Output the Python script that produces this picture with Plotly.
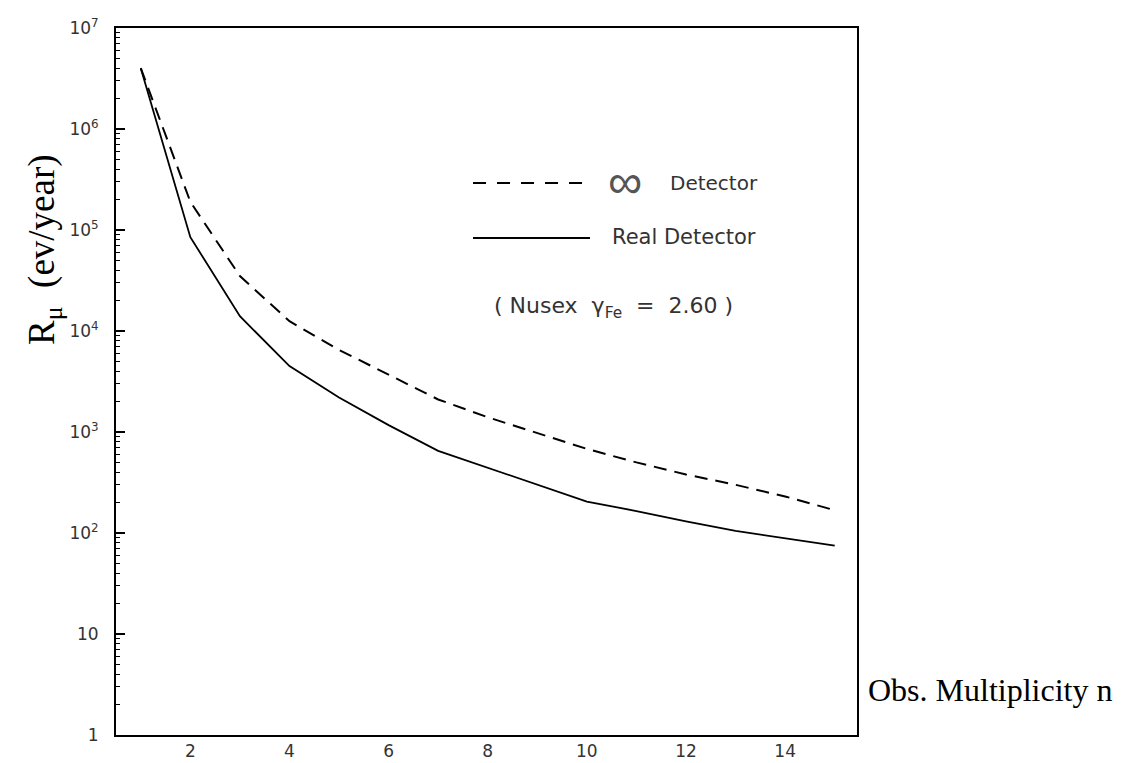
import plotly.graph_objects as go

# ---- data ----
multiplicity = [1, 2, 3, 4, 5, 6, 7, 8, 9, 10, 11, 12, 13, 14, 15]
rate_infinite = [4.0e6, 1.9e5, 3.5e4, 1.25e4, 6.5e3, 3.7e3, 2.1e3, 1.4e3,
                 980, 680, 500, 380, 300, 230, 168]
rate_real = [4.0e6, 8.5e4, 1.4e4, 4.5e3, 2.2e3, 1.17e3, 650, 440,
             300, 205, 165, 130, 105, 88, 75]

x_tick_vals = [2, 4, 6, 8, 10, 12, 14]
y_tick_vals = [1, 10, 1e2, 1e3, 1e4, 1e5, 1e6, 1e7]
y_tick_text = ["1", "10", "10<sup>2</sup>", "10<sup>3</sup>", "10<sup>4</sup>",
               "10<sup>5</sup>", "10<sup>6</sup>", "10<sup>7</sup>"]
minor_vals = [m * 10 ** k for k in range(0, 7) for m in range(2, 10)]

W, H = 1143, 763
L, R, T, B = 116, 857, 28, 735

fig = go.Figure()
fig.add_trace(go.Scatter(x=multiplicity, y=rate_infinite, mode="lines",
                         line=dict(color="black", width=2, dash="13px,8px"),
                         name="∞ Detector", showlegend=False))
fig.add_trace(go.Scatter(x=multiplicity, y=rate_real, mode="lines",
                         line=dict(color="black", width=1.8),
                         name="Real Detector", showlegend=False))

tick_font = dict(family="DejaVu Sans", size=17, color="#333")

fig.update_layout(
    width=W, height=H,
    margin=dict(l=L, r=W - R, t=T, b=H - B, pad=0, autoexpand=False),
    paper_bgcolor="white", plot_bgcolor="white",
    xaxis=dict(range=[0.5, 15.45], tickvals=x_tick_vals, ticks="",
               automargin=False,
               showgrid=False, zeroline=False, showline=True, mirror=True,
               linecolor="black", linewidth=2,
               tickfont=dict(family="DejaVu Sans", size=17, color="#333")),
    yaxis=dict(type="log", range=[0, 7], tickvals=y_tick_vals, ticktext=y_tick_text,
               automargin=False,
               ticks="inside", ticklen=9, tickwidth=1.5, tickcolor="black",
               ticklabelstandoff=12,
               minor=dict(tickvals=minor_vals, ticks="inside", ticklen=4,
                          tickwidth=1, tickcolor="black", showgrid=False),
               showgrid=False, zeroline=False, showline=True, mirror=True,
               linecolor="black", linewidth=2, tickfont=tick_font),
)

def px_x(p):
    return (p - L) / (R - L)

def px_y(p):
    return (B - p) / (B - T)

# legend samples (decorations)
fig.add_shape(type="line", xref="paper", yref="paper",
              x0=px_x(473), x1=px_x(590), y0=px_y(183), y1=px_y(183),
              line=dict(color="black", width=2, dash="13px,11px"))
fig.add_shape(type="line", xref="paper", yref="paper",
              x0=px_x(473), x1=px_x(590), y0=px_y(238), y1=px_y(238),
              line=dict(color="black", width=2))

label_font = dict(family="DejaVu Sans", size=20, color="#333")
fig.add_annotation(xref="paper", yref="paper", x=px_x(606), y=px_y(181),
                   xanchor="left", yanchor="middle", text="∞", showarrow=False,
                   font=dict(family="Liberation Sans", size=48, color="#555"))
fig.add_annotation(xref="paper", yref="paper", x=px_x(668), y=px_y(183),
                   xanchor="left", yanchor="middle", text="Detector", showarrow=False,
                   font=label_font)
fig.add_annotation(xref="paper", yref="paper", x=px_x(610), y=px_y(237),
                   xanchor="left", yanchor="middle", text="Real Detector", showarrow=False,
                   font=dict(family="DejaVu Sans", size=21, color="#333"))
fig.add_annotation(xref="paper", yref="paper", x=px_x(492), y=px_y(307),
                   xanchor="left", yanchor="middle",
                   text="( Nusex  γ<sub>Fe</sub>  =  2.60 )", showarrow=False,
                   font=dict(family="DejaVu Sans", size=22, color="#333"))

# axis titles
fig.add_annotation(xref="paper", yref="paper", x=px_x(45), y=px_y(250),
                   xanchor="center", yanchor="middle", textangle=-90,
                   text="R<sub>μ</sub>  (ev/year)", showarrow=False,
                   font=dict(family="Liberation Serif", size=37, color="black"))
fig.add_annotation(xref="paper", yref="paper", x=px_x(866), y=px_y(690),
                   xanchor="left", yanchor="middle",
                   text="Obs. Multiplicity n", showarrow=False,
                   font=dict(family="Liberation Serif", size=32, color="black"))

fig.write_html("out.html", config={"displayModeBar": False})

# remove the default page margin so the figure sits at the window's origin
with open("out.html", "r", encoding="utf-8") as f:
    html = f.read()
html = html.replace("<body>", '<body style="margin:0;padding:0;">', 1)
with open("out.html", "w", encoding="utf-8") as f:
    f.write(html)
